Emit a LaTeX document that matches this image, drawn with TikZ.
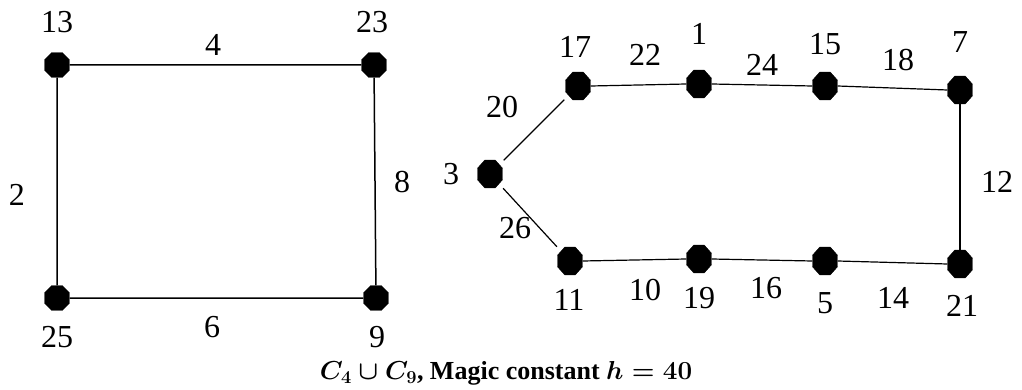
\documentclass[tikz,border=0pt]{standalone}
\usepackage{fix-cm}
\usepackage{amsmath}
\usepackage{fontspec}
\setmainfont{Liberation Serif}
\usetikzlibrary{shapes.geometric}
\begin{document}
\begin{tikzpicture}[x=1pt,y=-1pt,
  vtx/.style={regular polygon,regular polygon sides=8,fill=black,draw=black,inner sep=0pt,minimum size=27pt},
  vtxr/.style={vtx,minimum size=27pt,yscale=1.12},
  lbl/.style={font=\fontsize{32}{34}\selectfont,inner sep=0pt},
  edge/.style={draw=black,line width=1.5pt},
  edger/.style={draw=black,line width=1.2pt}]
\useasboundingbox (0,0) rectangle (1022,390);
% left C4
\node[vtx] (v13) at (57,65) {};
\node[vtx] (v23) at (374,65) {};
\node[vtx] (v25) at (57,298) {};
\node[vtx] (v9) at (376,298) {};
\node[lbl] (l13) at (57,22) {13};
\node[lbl] (l23) at (372,22) {23};
\node[lbl] (l25) at (57,337) {25};
\node[lbl] (l9) at (377,337) {9};
\draw[edge] (v13) -- (v23) -- (v9) -- (v25) -- (v13);
\node[lbl] (e4) at (213,45) {4};
\node[lbl] (e2) at (17,195) {2};
\node[lbl] (e8) at (402,182) {8};
\node[lbl] (e6) at (212,327) {6};
% right C9
\node[vtxr] (v3) at (490,174) {};
\node[vtxr] (v17) at (578,86) {};
\node[vtxr] (v1) at (699,84) {};
\node[vtxr] (v15) at (825,86) {};
\node[vtxr] (v7) at (960,90) {};
\node[vtxr] (v11) at (570,261) {};
\node[vtxr] (v19) at (699,259) {};
\node[vtxr] (v5) at (825,261) {};
\node[vtxr] (v21) at (960,264) {};
\node[lbl] (l3) at (451,174) {3};
\node[lbl] (l17) at (575,47) {17};
\node[lbl] (l1) at (699,34) {1};
\node[lbl] (l15) at (825,44) {15};
\node[lbl] (l7) at (960,42) {7};
\node[lbl] (l11) at (569,300) {11};
\node[lbl] (l19) at (699,298) {19};
\node[lbl] (l5) at (825,303) {5};
\node[lbl] (l21) at (962,306) {21};
\draw[edger,shorten <=6pt,shorten >=6pt] (v3) -- (v17);
\draw[edger,shorten <=6pt,shorten >=6pt] (v3) -- (v11);
\draw[edger] (v17.east) -- (v1.west);
\draw[edger] (v1.east) -- (v15.west);
\draw[edger] (v15.east) -- (v7.west);
\draw[edger] (v7) -- (v21);
\draw[edger] (v11.east) -- (v19.west);
\draw[edger] (v19.east) -- (v5.west);
\draw[edger] (v5.east) -- (v21.west);
\node[lbl] (e20) at (502,107) {20};
\node[lbl] (e22) at (645,55) {22};
\node[lbl] (e24) at (762,65) {24};
\node[lbl] (e18) at (898,60) {18};
\node[lbl] (e12) at (997,182) {12};
\node[lbl] (e26) at (515,228) {26};
\node[lbl] (e10) at (645,290) {10};
\node[lbl] (e16) at (766,288) {16};
\node[lbl] (e14) at (893,298) {14};
% caption
\node[font=\fontsize{26}{28}\selectfont\bfseries\boldmath,inner sep=0pt] (cap) at (506,373)
  {$C_4\cup C_9$, Magic constant $h=40$};
\end{tikzpicture}
\end{document}
